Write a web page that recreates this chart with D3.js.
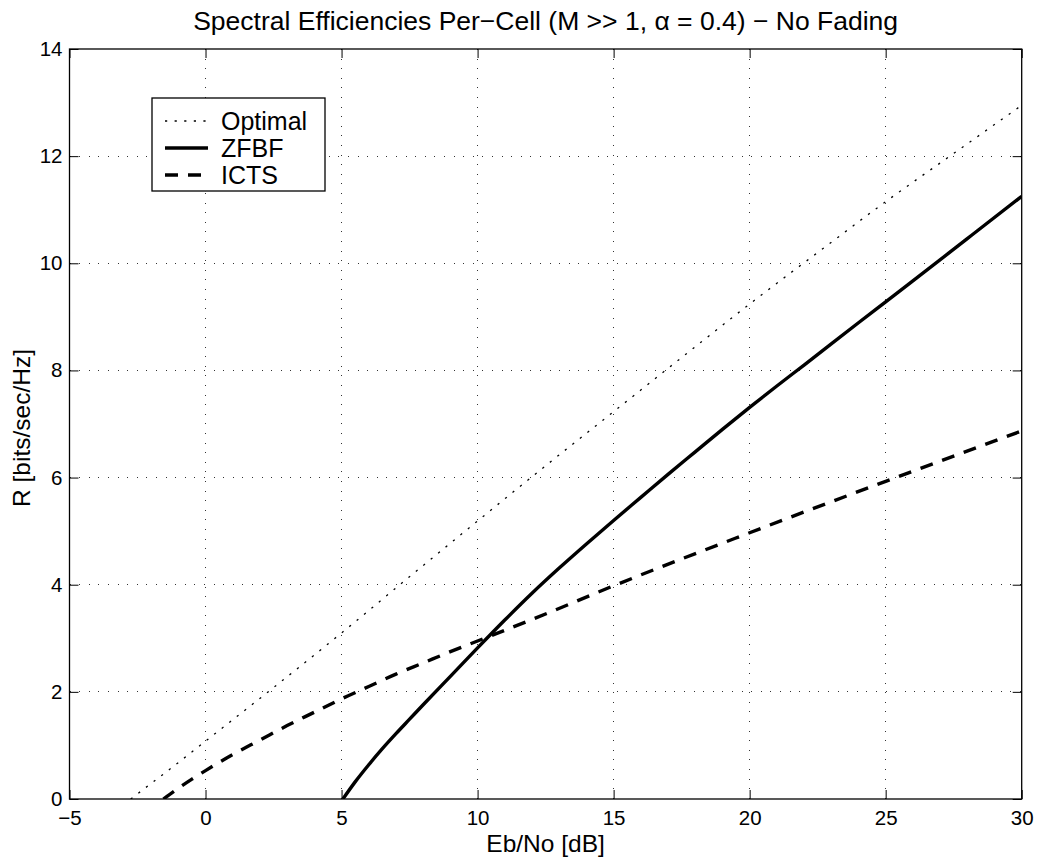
<!DOCTYPE html>
<html>
<head>
<meta charset="utf-8">
<script src="https://cdn.jsdelivr.net/npm/d3@7"></script>
<style>
  body { margin: 0; background: #fff; }
  svg text { font-family: "Liberation Sans", Arial, sans-serif; fill: #000; }
</style>
</head>
<body>
<div id="chart"></div>
<script>
// dados (Eb/No em dB, R em bits/sec/Hz)
var xTicks = [-5, 0, 5, 10, 15, 20, 25, 30];
var yTicks = [0, 2, 4, 6, 8, 10, 12, 14];

var optimalX = [-2.75, -2, -1, 0, 2.5, 5, 7.5, 10, 12.5, 15, 17.5, 20, 22.5, 25, 27.5, 30];
var optimalY = [0, 0.29, 0.68, 1.08, 2.08, 3.1, 4.15, 5.19, 6.22, 7.23, 8.24, 9.24, 10.2, 11.15, 12.05, 12.95];

var zfbfX = [5.05, 5.5, 6, 6.5, 7, 7.5, 8, 9, 10, 11, 12, 13, 14, 15, 16, 17, 18, 19, 20, 21, 22, 24, 25, 26, 28, 30];
var zfbfY = [0, 0.32, 0.64, 0.94, 1.22, 1.49, 1.76, 2.29, 2.82, 3.34, 3.84, 4.31, 4.76, 5.2, 5.63, 6.06, 6.48, 6.9, 7.31, 7.71, 8.1, 8.89, 9.28, 9.67, 10.46, 11.25];

var ictsX = [-1.55, -1, -0.5, 0, 1, 2, 3, 4, 5, 6, 7, 8, 9, 10, 12, 15, 20, 25, 30];
var ictsY = [0, 0.2, 0.37, 0.53, 0.83, 1.1, 1.37, 1.62, 1.87, 2.1, 2.33, 2.54, 2.75, 2.95, 3.35, 3.98, 4.97, 5.93, 6.87];

var seriesNames = ['Optimal', 'ZFBF', 'ICTS'];

var W = 1039, H = 865;
var margin = { top: 49, right: 17.3, bottom: 66, left: 69.5 };
var width = W - margin.left - margin.right;
var height = H - margin.top - margin.bottom;

var estilos = {
    'Optimal': { dash: '2.2,7.4', sw: 1.3 },
    'ZFBF':    { dash: null,       sw: 3.4 },
    'ICTS':    { dash: '13,10',    sw: 3.4 }
};

function pares(xs, ys) {
    return xs.map(function(x, i) { return [x, ys[i]]; });
}
var series = [
    { nome: 'Optimal', pts: pares(optimalX, optimalY) },
    { nome: 'ZFBF', pts: pares(zfbfX, zfbfY) },
    { nome: 'ICTS', pts: pares(ictsX, ictsY) }
];

var svg = d3.select('#chart').append('svg')
    .attr('width', W)
    .attr('height', H);

svg.append('rect').attr('width', W).attr('height', H).attr('fill', '#fff');

var g = svg.append('g')
    .attr('transform', 'translate(' + margin.left + ',' + margin.top + ')');

var fx = d3.scaleLinear().domain([-5, 30]).range([0, width]);
var fy = d3.scaleLinear().domain([0, 14]).range([height, 0]);

// grade pontilhada
var grade = g.append('g').attr('class', 'grid');
grade.selectAll('line.gx')
    .data(xTicks.slice(1, -1)).enter()
    .append('line')
      .attr('x1', function(d) { return fx(d); })
      .attr('x2', function(d) { return fx(d); })
      .attr('y1', 0).attr('y2', height);
grade.selectAll('line.gy')
    .data(yTicks.slice(1, -1)).enter()
    .append('line')
      .attr('y1', function(d) { return fy(d); })
      .attr('y2', function(d) { return fy(d); })
      .attr('x1', 0).attr('x2', width);
grade.selectAll('line')
    .attr('stroke', '#333')
    .attr('stroke-width', 1)
    .attr('stroke-dasharray', '1,8.6')
    .attr('shape-rendering', 'crispEdges');

// curvas
var linha = d3.line()
    .x(function(d) { return fx(d[0]); })
    .y(function(d) { return fy(d[1]); })
    .curve(d3.curveMonotoneX);

g.append('defs').append('clipPath').attr('id', 'clip')
    .append('rect').attr('width', width).attr('height', height);

g.append('g').attr('clip-path', 'url(#clip)')
  .selectAll('path')
    .data(series).enter()
    .append('path')
      .attr('d', function(d) { return linha(d.pts); })
      .attr('fill', 'none')
      .attr('stroke', '#000')
      .attr('stroke-width', function(d) { return estilos[d.nome].sw; })
      .attr('stroke-dasharray', function(d) { return estilos[d.nome].dash; });

// eixos (ticks para dentro, como no matlab)
var fonte = '20.5px';
var eixoX = g.append('g')
    .attr('transform', 'translate(0,' + height + ')')
    .call(d3.axisBottom(fx).tickValues(xTicks).tickSize(-9).tickPadding(11));
var eixoY = g.append('g')
    .call(d3.axisLeft(fy).tickValues(yTicks).tickSize(-9).tickPadding(7));
var eixoTopo = g.append('g')
    .call(d3.axisTop(fx).tickValues(xTicks).tickSize(-9).tickFormat(''));
var eixoDir = g.append('g')
    .attr('transform', 'translate(' + width + ',0)')
    .call(d3.axisRight(fy).tickValues(yTicks).tickSize(-9).tickFormat(''));

[eixoX, eixoY, eixoTopo, eixoDir].forEach(function(e) {
    e.select('.domain').remove();
    e.selectAll('line').attr('stroke', '#000').attr('stroke-width', 1);
    e.selectAll('text')
        .style('font-size', fonte)
        .style('font-family', '"Liberation Sans", Arial, sans-serif')
        .attr('fill', '#000');
});
eixoX.selectAll('text').text(function(d) { return d < 0 ? '\u2212' + Math.abs(d) : d; });

g.append('rect')
    .attr('width', width).attr('height', height)
    .attr('fill', 'none').attr('stroke', '#000').attr('stroke-width', 1.3);

// legenda
var leg = g.append('g').attr('transform', 'translate(' + (152 - margin.left) + ',' + (98 - margin.top) + ')');
leg.append('rect')
    .attr('width', 173).attr('height', 93)
    .attr('fill', '#fff').attr('stroke', '#000').attr('stroke-width', 1.3);
var item = leg.selectAll('g.item')
    .data(seriesNames).enter()
    .append('g')
      .attr('class', 'item')
      .attr('transform', function(d, i) { return 'translate(0,' + (23 + i * 27) + ')'; });
item.append('line')
    .attr('x1', 13).attr('x2', 56)
    .attr('stroke', '#000')
    .attr('stroke-width', function(d) { return estilos[d].sw; })
    .attr('stroke-dasharray', function(d) { return estilos[d].dash; });
item.append('text')
    .attr('x', 69)
    .attr('dy', '.35em')
    .style('font-size', '25px')
    .text(function(d) { return d; });

// titulos
svg.append('text')
    .attr('x', margin.left + width / 2)
    .attr('y', 30)
    .style('text-anchor', 'middle')
    .style('font-size', '26.5px')
    .text('Spectral Efficiencies Per\u2212Cell (M >> 1, \u03b1 = 0.4) \u2212 No Fading');

svg.append('text')
    .attr('x', margin.left + width / 2)
    .attr('y', 852)
    .style('text-anchor', 'middle')
    .style('font-size', '24.5px')
    .text('Eb/No [dB]');

svg.append('text')
    .attr('transform', 'translate(30,' + (margin.top + height / 2 + 4) + ') rotate(-90)')
    .style('text-anchor', 'middle')
    .style('font-size', '24.5px')
    .text('R [bits/sec/Hz]');
</script>
</body>
</html>
